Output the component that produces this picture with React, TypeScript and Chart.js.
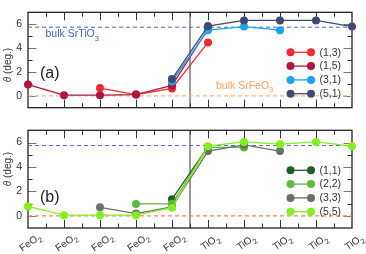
import { useEffect, useRef } from "react";
import { Chart, registerables } from "chart.js";
Chart.register(...registerables);

// ---------- data ----------
const LAYERS = ["FeO2", "FeO2", "FeO2", "FeO2", "FeO2", "TiO2", "TiO2", "TiO2", "TiO2", "TiO2"];
const Y_TICKS = [0, 2, 4, 6];
const BULK_SRTIO3 = 5.75;
const BULK_SRFEO3 = 0;
const INTERFACE_POS = 4.5;

const TOP_LABELS = ["(1,3)", "(1,5)", "(3,1)", "(5,1)"];
const S13 = [null, null, 0.65, 0.1, 0.62, 4.47, null, null, null, null];
const S15 = [0.94, 0.05, 0.05, 0.1, 0.87, 5.6, null, null, null, null];
const S31 = [null, null, null, null, 1.2, 5.5, 5.8, 5.5, null, null];
const S51 = [null, null, null, null, 1.4, 5.85, 6.32, 6.32, 6.32, 5.8];
const TOP_COLORS = ["#ee2a34", "#b3143f", "#19a4ef", "#414a72"];

const BOTTOM_LABELS = ["(1,1)", "(2,2)", "(3,3)", "(5,5)"];
const S11 = [null, null, null, null, 1.36, 5.65, null, null, null, null];
const S22 = [null, null, null, 0.97, 0.98, 5.6, 5.6, null, null, null];
const S33 = [null, null, 0.69, 0.18, 0.72, 5.3, 5.8, 5.3, null, null];
const S55 = [0.77, 0.05, 0.05, 0.05, 0.66, 5.7, 6.05, 5.86, 6.05, 5.7];
const BOTTOM_COLORS = ["#1f5f1f", "#5dba3b", "#687262", "#84ef1e"];

Chart.defaults.font.family = "'Liberation Sans', Arial, sans-serif";

type Panel = {
  labels: string[];
  series: (number | null)[][];
  colors: string[];
  tag: string;
  tagY: number;
  titleY: number;
  blue: string;
  orange: string;
  bulkText: boolean;
  xLabels: boolean;
  padTop: number;
  bottomH: number;
};

function drawSub(ctx: CanvasRenderingContext2D, base: string, sub: string, x: number, y: number, size: number, subSize: number) {
  ctx.font = `${size}px 'Liberation Sans', Arial, sans-serif`;
  ctx.textAlign = "left";
  ctx.textBaseline = "alphabetic";
  ctx.fillText(base, x, y);
  const w = ctx.measureText(base).width;
  ctx.font = `${subSize}px 'Liberation Sans', Arial, sans-serif`;
  ctx.fillText(sub, x + w, y + size * 0.35);
}

function makePlugin(p: Panel) {
  return {
    id: "deco",
    beforeDatasetsDraw(chart: any) {
      const { ctx, chartArea: a, scales } = chart;
      const x = scales.x, y = scales.y;
      ctx.save();
      // interface line
      const xi = x.getPixelForValue(INTERFACE_POS);
      ctx.strokeStyle = "#333";
      ctx.lineWidth = 1;
      ctx.beginPath();
      ctx.moveTo(xi, a.top);
      ctx.lineTo(xi, a.bottom);
      ctx.stroke();
      // x ticks (top & bottom, inward)
      for (let v = 0.5; v < LAYERS.length - 1; v += 0.5) {
        const px = Math.round(x.getPixelForValue(v)) + 0.5;
        const major = Number.isInteger(v);
        const len = major ? 8 : 4.5;
        ctx.strokeStyle = "#333";
        ctx.lineWidth = 1;
        ctx.beginPath();
        ctx.moveTo(px, a.bottom);
        ctx.lineTo(px, a.bottom - len);
        ctx.moveTo(px, a.top);
        ctx.lineTo(px, a.top + len);
        ctx.stroke();
      }
      // y ticks (left & right, inward)
      for (let v = 0; v <= 6; v += 1) {
        const py = Math.round(y.getPixelForValue(v)) + 0.5;
        const major = v % 2 === 0;
        const len = major ? 8.5 : 4.5;
        ctx.strokeStyle = major ? "#777" : "#333";
        ctx.lineWidth = major ? 1.2 : 1;
        ctx.beginPath();
        ctx.moveTo(a.left, py);
        ctx.lineTo(a.left + len, py);
        ctx.moveTo(a.right, py);
        ctx.lineTo(a.right - len, py);
        ctx.stroke();
      }
      // frame
      ctx.strokeStyle = "#222";
      ctx.lineWidth = 1.3;
      ctx.strokeRect(a.left, a.top, a.right - a.left, a.bottom - a.top);
      ctx.restore();
    },
    afterDatasetsDraw(chart: any) {
      const { ctx, chartArea: a, scales } = chart;
      const x = scales.x, y = scales.y;
      ctx.save();
      // legend
      p.labels.forEach((lab, i) => {
        const ly = a.top + 40 + i * 13.8;
        ctx.strokeStyle = p.colors[i];
        ctx.fillStyle = p.colors[i];
        ctx.lineWidth = 1.3;
        ctx.beginPath();
        ctx.moveTo(290.5, ly);
        ctx.lineTo(311, ly);
        ctx.stroke();
        [290.5, 311].forEach((cx) => {
          ctx.beginPath();
          ctx.arc(cx, ly, 4, 0, Math.PI * 2);
          ctx.fill();
        });
        ctx.fillStyle = "#333";
        ctx.font = "10.5px 'Liberation Sans', Arial, sans-serif";
        ctx.textAlign = "left";
        ctx.textBaseline = "middle";
        ctx.fillText(lab, 319.5, ly + 0.5);
      });
      // bulk annotations
      if (p.bulkText) {
        ctx.fillStyle = "#4262bd";
        drawSub(ctx, "bulk SrTiO", "3", a.left + 17.5, y.getPixelForValue(BULK_SRTIO3) + 10, 10.5, 7.5);
        ctx.fillStyle = "#f6a25c";
        drawSub(ctx, "bulk SrFeO", "3", 216, y.getPixelForValue(BULK_SRFEO3) - 7, 10.5, 7.5);
      }
      // panel tag
      ctx.fillStyle = "#222";
      ctx.font = "16px 'Liberation Sans', Arial, sans-serif";
      ctx.textAlign = "left";
      ctx.textBaseline = "middle";
      ctx.fillText(p.tag, 40, p.tagY);
      // y title
      ctx.save();
      ctx.translate(8, p.titleY);
      ctx.rotate(-Math.PI / 2);
      ctx.fillStyle = "#333";
      ctx.textBaseline = "middle";
      ctx.textAlign = "left";
      ctx.font = "italic 10px 'Liberation Sans', Arial, sans-serif";
      const wt = ctx.measureText("θ").width;
      ctx.font = "10px 'Liberation Sans', Arial, sans-serif";
      const wr = ctx.measureText(" (deg.)").width;
      const sx = -(wt + wr) / 2;
      ctx.font = "italic 10px 'Liberation Sans', Arial, sans-serif";
      ctx.fillText("θ", sx, 0);
      ctx.font = "10px 'Liberation Sans', Arial, sans-serif";
      ctx.fillText(" (deg.)", sx + wt, 0);
      ctx.restore();
      // x labels
      if (p.xLabels) {
        LAYERS.forEach((lab, i) => {
          const base = lab.slice(0, -1);
          const sub = lab.slice(-1);
          ctx.save();
          ctx.translate(x.getPixelForValue(i) + 2, a.bottom + 14);
          ctx.rotate((-35 * Math.PI) / 180);
          ctx.fillStyle = "#333";
          ctx.font = "10px 'Liberation Sans', Arial, sans-serif";
          const wb = ctx.measureText(base).width;
          ctx.font = "7.5px 'Liberation Sans', Arial, sans-serif";
          const ws = ctx.measureText(sub).width;
          drawSub(ctx, base, sub, -(wb + ws) / 2, 3.5, 10, 7.5);
          ctx.restore();
        });
      }
      ctx.restore();
    },
  };
}

function buildChart(canvas: HTMLCanvasElement, p: Panel) {
  const datasets: any[] = [
    ...p.series.map((d, i) => ({
      data: d,
      borderColor: p.colors[i],
      backgroundColor: p.colors[i],
      borderWidth: 1.3,
      pointRadius: 4,
      pointHoverRadius: 4,
      pointBorderWidth: 0,
      order: -i,
      clip: false,
      spanGaps: false,
    })),
    {
      data: LAYERS.map(() => BULK_SRTIO3),
      borderColor: p.blue,
      borderWidth: 1,
      borderDash: [4, 3],
      pointRadius: 0,
      order: 10,
    },
    {
      data: LAYERS.map(() => BULK_SRFEO3),
      borderColor: p.orange,
      borderWidth: 1.2,
      borderDash: [4, 3],
      pointRadius: 0,
      order: 10,
    },
  ];
  return new Chart(canvas, {
    type: "line",
    data: { labels: LAYERS, datasets },
    plugins: [makePlugin(p)],
    options: {
      animation: false,
      responsive: false,
      devicePixelRatio: 1,
      events: [],
      layout: { padding: { top: p.padTop, right: 14, left: 0, bottom: 0 } },
      plugins: { legend: { display: false }, tooltip: { enabled: false } },
      scales: {
        x: {
          type: "category",
          offset: false,
          grid: { display: false },
          border: { display: false },
          ticks: { display: false },
          afterFit: (s: any) => {
            s.height = p.bottomH;
          },
        },
        y: {
          min: -1,
          max: 7,
          afterBuildTicks: (s: any) => {
            s.ticks = Y_TICKS.map((v) => ({ value: v }));
          },
          grid: { display: false, drawTicks: false },
          border: { display: false },
          ticks: { padding: 6, color: "#333", font: { size: 10.5 } },
          afterFit: (s: any) => {
            s.width = 28;
          },
        },
      },
    } as any,
  });
}

const TOP_PANEL: Panel = {
  labels: TOP_LABELS,
  series: [S13, S15, S31, S51],
  colors: TOP_COLORS,
  tag: "(a)",
  tagY: 74,
  titleY: 65,
  blue: "#4a66c0",
  orange: "#ffb57e",
  bulkText: true,
  xLabels: false,
  padTop: 4,
  bottomH: 8,
};

const BOTTOM_PANEL: Panel = {
  labels: BOTTOM_LABELS,
  series: [S11, S22, S33, S55],
  colors: BOTTOM_COLORS,
  tag: "(b)",
  tagY: 80,
  titleY: 51,
  blue: "#5468c4",
  orange: "#f28a5c",
  bulkText: false,
  xLabels: true,
  padTop: 3.5,
  bottomH: 26,
};

export default function App() {
  const topRef = useRef<HTMLCanvasElement>(null);
  const botRef = useRef<HTMLCanvasElement>(null);
  useEffect(() => {
    const c1 = buildChart(topRef.current!, TOP_PANEL);
    const c2 = buildChart(botRef.current!, BOTTOM_PANEL);
    return () => {
      c1.destroy();
      c2.destroy();
    };
  }, []);
  return (
    <div style={{ position: "fixed", left: 0, top: 0, width: 366, height: 254, background: "#fff" }}>
      <canvas ref={topRef} width={366} height={120} style={{ position: "absolute", left: 0, top: 0, width: 366, height: 120 }} />
      <canvas ref={botRef} width={366} height={136} style={{ position: "absolute", left: 0, top: 118, width: 366, height: 136 }} />
    </div>
  );
}
